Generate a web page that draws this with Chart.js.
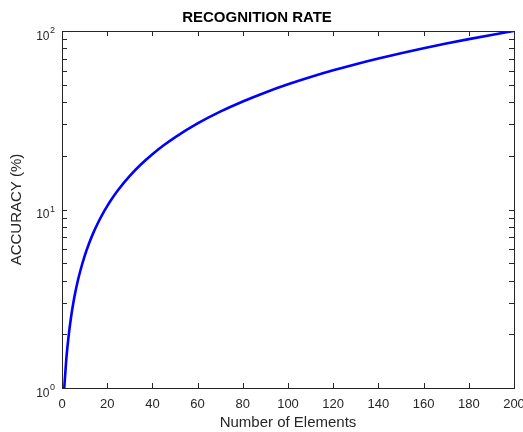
<!DOCTYPE html>
<html>
<head>
<meta charset="utf-8">
<script src="https://cdn.jsdelivr.net/npm/chart.js@4/dist/chart.umd.min.js"></script>
<style>
  html, body { margin: 0; padding: 0; background: #fff; }
  #chart { display: block; }
</style>
</head>
<body>
<canvas id="chart" width="523" height="432"></canvas>
<script>
// Werte
const elemente = [1, 2, 3, 4, 5, 6, 7, 8, 10, 12, 14, 16, 18, 20, 22, 25, 30, 35, 40, 45, 50, 60, 70, 80, 90, 100, 110, 120, 130, 140, 150, 160, 170, 180, 190, 200];
const genauigkeit = [1, 1.5, 1.99, 2.49, 2.99, 3.49, 3.99, 4.48, 5.48, 6.47, 7.47, 8.46, 9.46, 10.45, 11.45, 12.94, 15.43, 17.92, 20.4, 22.89, 25.38, 30.35, 35.33, 40.3, 45.28, 50.25, 55.23, 60.2, 65.18, 70.15, 75.13, 80.1, 85.08, 90.05, 95.03, 100];

const xTicks = [0, 20, 40, 60, 80, 100, 120, 140, 160, 180, 200];
const yTicks = [1, 10, 100];
const yTickBasis = "10";
const yTickExponent = ["0", "1", "2"];
const yMinorTicks = [2, 3, 4, 5, 6, 7, 8, 9, 20, 30, 40, 50, 60, 70, 80, 90];

const achsenFarbe = "#262626";
const schrift = "'Liberation Sans', Arial, Helvetica, sans-serif";

// Rahmen, Striche nach innen und Hochzahl-Beschriftung, wie in MATLAB
const rahmenPlugin = {
  id: "rahmen",
  afterDraw(chart) {
    const ctx = chart.ctx;
    const a = chart.chartArea;
    const xs = chart.scales.x;
    const ys = chart.scales.y;
    const len = 5;
    ctx.save();
    ctx.strokeStyle = achsenFarbe;
    ctx.lineWidth = 1;
    ctx.beginPath();
    xTicks.forEach((v) => {
      const px = Math.round(xs.getPixelForValue(v)) + 0.5;
      ctx.moveTo(px, a.bottom);
      ctx.lineTo(px, a.bottom - len);
      ctx.moveTo(px, a.top);
      ctx.lineTo(px, a.top + len);
    });
    yTicks.concat(yMinorTicks).forEach((v) => {
      const py = Math.round(ys.getPixelForValue(v)) + 0.5;
      ctx.moveTo(a.left, py);
      ctx.lineTo(a.left + len, py);
      ctx.moveTo(a.right, py);
      ctx.lineTo(a.right - len, py);
    });
    ctx.stroke();
    ctx.strokeRect(Math.round(a.left) + 0.5, Math.round(a.top) + 0.5,
      Math.round(a.right - a.left), Math.round(a.bottom - a.top));

    // y-Beschriftung 10^n
    ctx.fillStyle = achsenFarbe;
    ctx.textBaseline = "alphabetic";
    yTicks.forEach((v, i) => {
      const py = ys.getPixelForValue(v);
      const rechts = a.left - 7;
      ctx.font = "9px " + schrift;
      const expBreite = ctx.measureText(yTickExponent[i]).width;
      ctx.textAlign = "right";
      ctx.fillText(yTickExponent[i], rechts, py + 2);
      ctx.font = "12px " + schrift;
      ctx.fillText(yTickBasis, rechts - expBreite - 0.5, py + 8.5);
    });
    ctx.restore();
  },
};

const ctx = document.getElementById("chart").getContext("2d");
new Chart(ctx, {
  type: "line",
  data: {
    datasets: [
      {
        data: elemente.map((x, i) => ({ x: x, y: genauigkeit[i] })),
        borderColor: "#0000ff",
        borderWidth: 2.6,
        pointRadius: 0,
        cubicInterpolationMode: "monotone",
        fill: false,
      },
    ],
  },
  options: {
    responsive: false,
    animation: false,
    layout: { padding: { left: 0, right: 9, top: 0, bottom: 0 } },
    plugins: {
      legend: { display: false },
      tooltip: { enabled: false },
      title: {
        display: true,
        text: "RECOGNITION RATE",
        color: "#000",
        font: { family: schrift, size: 15, weight: "bold", lineHeight: 1.2 },
        padding: { top: 9, bottom: 4 },
      },
    },
    scales: {
      x: {
        type: "linear",
        min: 0,
        max: 200,
        grid: { display: false, drawTicks: false },
        border: { display: false },
        afterBuildTicks(scale) {
          scale.ticks = xTicks.map((v) => ({ value: v }));
        },
        afterFit(scale) {
          scale.height = 44;
          scale.paddingLeft = 0;
          scale.paddingRight = 0;
        },
        ticks: {
          color: achsenFarbe,
          font: { family: schrift, size: 13 },
          padding: 9,
          maxRotation: 0,
          autoSkip: false,
        },
        title: {
          display: true,
          text: "Number of Elements",
          color: achsenFarbe,
          font: { family: schrift, size: 15 },
          padding: { top: 0, bottom: 0 },
        },
      },
      y: {
        type: "logarithmic",
        min: 1,
        max: 100,
        grid: { display: false, drawTicks: false },
        border: { display: false },
        afterBuildTicks(scale) {
          scale.ticks = yTicks.map((v) => ({ value: v }));
        },
        afterFit(scale) {
          scale.width = 62;
          scale.paddingTop = 0;
          scale.paddingBottom = 0;
        },
        ticks: { display: false },
        title: {
          display: true,
          text: "ACCURACY (%)",
          color: achsenFarbe,
          font: { family: schrift, size: 15 },
          padding: { top: 8, bottom: 0 },
        },
      },
    },
  },
  plugins: [rahmenPlugin],
});
</script>
</body>
</html>
